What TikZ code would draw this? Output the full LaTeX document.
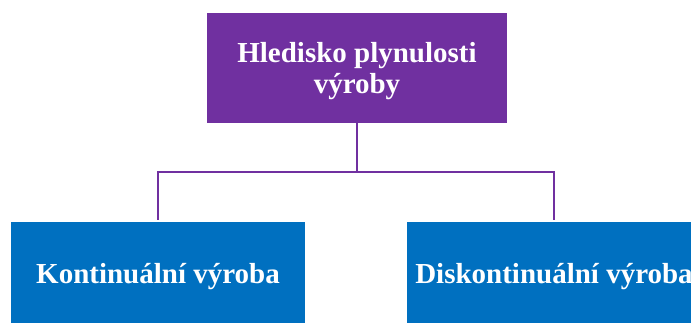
\documentclass[tikz,border=0pt]{standalone}
\usepackage{fontspec}
\setmainfont{Liberation Serif}
\definecolor{headpurple}{HTML}{7030A0}
\definecolor{boxblue}{HTML}{0070C0}
\begin{document}
\begin{tikzpicture}[x=1pt,y=-1pt,
  box/.style={rectangle, inner sep=0pt},
  boxtext/.style={inner sep=0pt, text=white, align=center,
    font=\bfseries\fontsize{29}{31}\selectfont},
  headbox/.style={box, fill=headpurple, minimum width=300pt, minimum height=110pt},
  leafbox/.style={box, fill=boxblue, minimum width=294pt, minimum height=108pt},
  link/.style={draw=headpurple, line width=2pt}]
  \clip (0,0) rectangle (691,322);
  % boxes
  \node[headbox] (head) at (357,68) {};
  \node[leafbox] (cont) at (158,276) {};
  \node[leafbox] (disc) at (554,276) {};
  % labels, set a little below each box's centre
  \node[boxtext] (headlabel) at ([yshift=-3pt]head.center) {Hledisko plynulosti\\výroby};
  \node[boxtext] (contlabel) at ([yshift=-1pt]cont.center) {Kontinuální výroba};
  \node[boxtext] (disclabel) at ([yshift=-1pt]disc.center) {Diskontinuální výroba};
  % connectors
  \coordinate (bus) at (357,172);
  \draw[link] (head.south) -- (bus);
  \draw[link, shorten >=1.5pt] (bus) -| (cont.north);
  \draw[link, shorten >=1.5pt] (bus) -| (disc.north);
\end{tikzpicture}
\end{document}
